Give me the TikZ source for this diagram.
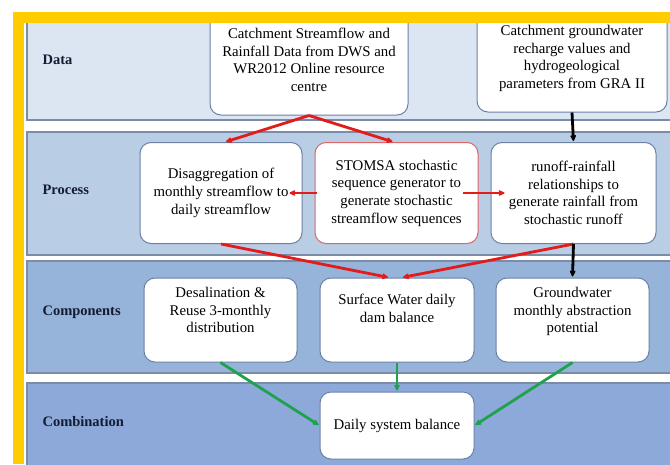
\documentclass[tikz,border=0pt]{standalone}
\usepackage{fontspec}
\setmainfont{Liberation Serif}
\usepackage{xcolor}
\usepackage{tikz}
\usetikzlibrary{arrows.meta,positioning}

\definecolor{datafill}{HTML}{DCE6F2}
\definecolor{procfill}{HTML}{B9CDE5}
\definecolor{compfill}{HTML}{96B3D9}
\definecolor{combfill}{HTML}{8DA9D9}
\definecolor{laneedge}{HTML}{7A8CA8}
\definecolor{boxedge}{HTML}{6B82A6}
\definecolor{labeltext}{HTML}{141C33}
\definecolor{framey}{HTML}{FFCC00}
\definecolor{flowred}{HTML}{E21B1B}
\definecolor{flowgreen}{HTML}{1FA24C}
\definecolor{redbox}{HTML}{E06464}

\begin{document}
\begin{tikzpicture}
  [x=1pt,y=-1pt,
  lane/.style={draw=laneedge,line width=1.2pt},
  box/.style={rectangle,rounded corners=11pt,draw=boxedge,fill=white,line width=1pt,
    inner sep=0pt,align=center,font=\fontsize{14.8}{17.7}\selectfont},
  lanelabel/.style={anchor=west,text=labeltext,font=\fontsize{14.5}{17.7}\selectfont\bfseries},
  redflow/.style={->,shorten >=1pt,>={Stealth[round,length=8pt,width=7.5pt]},line width=2.8pt,draw=flowred},
  blackflow/.style={->,shorten >=1pt,>={Stealth[round,length=8pt,width=7.5pt]},line width=2.8pt,draw=black},
  greenflow/.style={->,shorten >=1pt,>={Stealth[round,length=8pt,width=7.5pt]},line width=2.8pt,draw=flowgreen}
  ]
  \useasboundingbox (0,0) rectangle (670,464);
  \clip (0,0) rectangle (670,464);

  % swim lanes
  \fill[white] (0,0) rectangle (670,464);
  \filldraw[lane,fill=datafill] (27,-10) rectangle (690,120);
  \filldraw[lane,fill=procfill] (27,132) rectangle (690,255);
  \filldraw[lane,fill=compfill] (27,261) rectangle (690,373);
  \filldraw[lane,fill=combfill] (27,383) rectangle (690,480);
  \node[lanelabel] (lbldata) at (39,60) {Data};
  \node[lanelabel] (lblproc) at (39,190) {Process};
  \node[lanelabel] (lblcomp) at (39,312) {Components};
  \node[lanelabel] (lblcomb) at (39,422) {Combination};

  % data row
  \node[box,minimum width=198pt,minimum height=110pt] (catchflow) at (309,60)
    {Catchment Streamflow and\\Rainfall Data from DWS and\\WR2012 Online resource\\centre};
  \node[box,minimum width=190pt,minimum height=107pt] (catchgw) at (572,58.5)
    {Catchment groundwater\\recharge values and\\hydrogeological\\parameters from GRA II};

  % process row
  \node[box,draw=redbox,minimum width=163pt,minimum height=101pt] (stomsa) at (396.5,193)
    {STOMSA stochastic\\sequence generator to\\generate stochastic\\streamflow sequences};
  \node[box,minimum width=162pt,minimum height=101pt] (disagg) [left=12pt of stomsa]
    {Disaggregation of\\monthly streamflow to\\daily streamflow};
  \node[box,minimum width=165pt,minimum height=101pt] (runoff) [right=12pt of stomsa]
    {runoff-rainfall\\relationships to\\generate rainfall from\\stochastic runoff};

  % components row
  \node[box,minimum width=154pt,minimum height=84pt] (surface) at (397,320)
    {Surface Water daily\\dam balance\\[6pt]};
  \node[box,minimum width=153pt,minimum height=84pt] (desal) [left=22pt of surface]
    {Desalination \&\\Reuse 3-monthly\\distribution\\[2pt]};
  \node[box,minimum width=153pt,minimum height=84pt] (groundw) [right=21pt of surface]
    {Groundwater\\monthly abstraction\\potential\\[2pt]};

  % combination row
  \node[box,minimum width=154pt,minimum height=67pt] (daily) [below=29pt of surface]
    {Daily system balance};

  % flows
  \draw[redflow] (catchflow.south) -- ([xshift=4pt]disagg.north);
  \draw[redflow] (catchflow.south) -- ([xshift=-3pt]stomsa.north);
  \draw[redflow] ([xshift=2pt]stomsa.west) -- ([xshift=-14pt]disagg.east);
  \draw[redflow] ([xshift=-16pt]stomsa.east) -- ([xshift=15pt]runoff.west);
  \draw[redflow] (disagg.south) -- ([xshift=-8pt]surface.north);
  \draw[redflow] (runoff.south) -- ([xshift=5pt]surface.north);
  \draw[blackflow] (catchgw.south) -- (runoff.north);
  \draw[blackflow] (runoff.south) -- (groundw.north);
  \draw[greenflow] (desal.south) -- (daily.west);
  \draw[greenflow] (surface.south) -- (daily.north);
  \draw[greenflow] (groundw.south) -- (daily.east);

  % frame
  \fill[white] (0,0) rectangle (670,12);
  \fill[white] (0,0) rectangle (13,464);
  \fill[white] (24,23) rectangle (26,464);
  \fill[framey] (13,12) rectangle (670,23);
  \fill[framey] (13,12) rectangle (24,464);
\end{tikzpicture}
\end{document}
